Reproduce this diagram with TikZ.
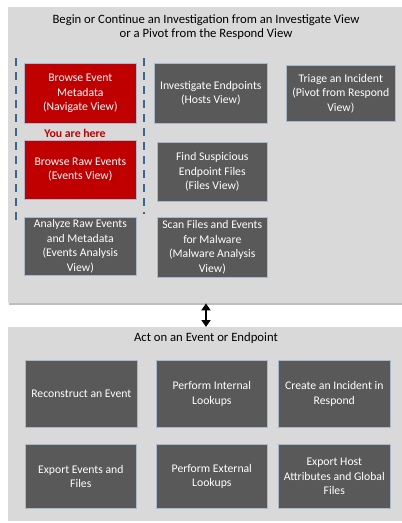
\documentclass[tikz,border=0pt]{standalone}
\usepackage{fontspec}
\setmainfont{Carlito}
\usetikzlibrary{arrows.meta}
\definecolor{panelgray}{HTML}{D9D9D9}
\definecolor{panelshadow}{HTML}{BDBDBD}
\definecolor{boxgray}{HTML}{595959}
\definecolor{boxedge}{HTML}{A7B9CC}
\definecolor{redbox}{HTML}{C00000}
\definecolor{dashblue}{HTML}{3A6690}
\begin{document}
\begin{tikzpicture}[x=1pt,y=-1pt,
  font=\fontsize{11.7}{14.5}\selectfont,
  panel/.style={fill=panelgray, draw=none, inner sep=0, anchor=north west},
  dbox/.style={fill=boxgray, draw=boxedge, line width=0.6pt, text=white, align=center, inner sep=0, anchor=north west},
  rbox/.style={dbox, fill=redbox},
  sepline/.style={draw=dashblue, line width=1.2pt, dash pattern=on 8pt off 6pt},
  ttl/.style={align=center, text=black, inner sep=0, font=\fontsize{12.7}{14.2}\selectfont}
]
\useasboundingbox (0,0) rectangle (402,523);
% panels
\fill[panelshadow] (9,7) rectangle (402,304.5);
\node[panel, minimum width=394pt, minimum height=296pt] (top) at (8,7) {};
\node[panel, minimum width=394pt, minimum height=194pt] (bot) at (8,327) {};
% titles
\node[ttl] (ttop) at (206,27) {Begin or Continue an Investigation from an Investigate View\\or a Pivot from the Respond View};
\node[ttl] (tbot) at (206,338.5) {Act on an Event or Endpoint};
% top boxes
\node[rbox, minimum width=112pt, minimum height=60pt] (nav) at (24,63) {Browse Event\\Metadata\\(Navigate View)};
\node[dbox, minimum width=113pt, minimum height=60pt] (hosts) at (154,63) {Investigate Endpoints\\(Hosts View)};
\node[dbox, minimum width=109pt, minimum height=56pt] (triage) at (286,65) {Triage an Incident\\(Pivot from Respond\\View)};
\node[text=redbox, font=\fontsize{11.8}{14}\selectfont\bfseries, inner sep=0] (here) at (75,133) {You are here};
\node[rbox, minimum width=112pt, minimum height=59pt] (events) at (24,140) {Browse Raw Events\\(Events View)};
\node[dbox, minimum width=110pt, minimum height=59pt] (files) at (157,142) {Find Suspicious\\Endpoint Files\\(Files View)};
\node[dbox, minimum width=112pt, minimum height=58pt] (analyze) at (24,217) {Analyze Raw Events\\and Metadata\\(Events Analysis\\View)};
\node[dbox, minimum width=110pt, minimum height=60pt] (malware) at (157,217) {Scan Files and Events\\for Malware\\(Malware Analysis\\View)};
% dashed separators
\coordinate (dl1) at (16,58);
\coordinate (dl2) at (16,220);
\coordinate (dr1) at (144,58);
\coordinate (dr2) at (144,214);
\draw[sepline] (dl1) -- (dl2);
\draw[sepline] (dr1) -- (dr2);
% bottom boxes
\node[dbox, minimum width=112pt, minimum height=67pt] (recon) at (25,360) {Reconstruct an Event};
\node[dbox, minimum width=111pt, minimum height=67pt] (intl) at (156,360) {Perform Internal\\Lookups};
\node[dbox, minimum width=112pt, minimum height=67pt] (incid) at (278,360) {Create an Incident in\\Respond};
\node[dbox, minimum width=111pt, minimum height=64pt] (export) at (25,444) {Export Events and\\Files};
\node[dbox, minimum width=111pt, minimum height=64pt] (extl) at (156,444) {Perform External\\Lookups};
\node[dbox, minimum width=112pt, minimum height=64pt] (host) at (278,444) {Export Host\\Attributes and Global\\Files};
% double arrow
\draw[{Triangle[width=9pt,length=7pt]}-{Triangle[width=9pt,length=7pt]}, line width=2pt, black]
  (top.south -| 206,0) -- (bot.north -| 206,0);
\end{tikzpicture}
\end{document}
